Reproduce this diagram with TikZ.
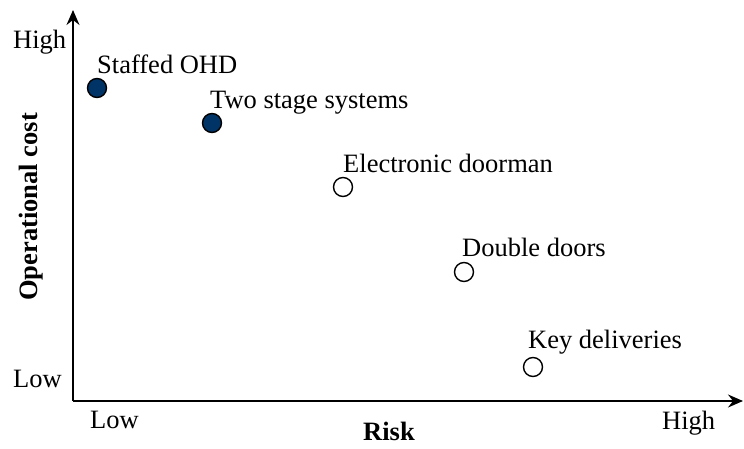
\documentclass[tikz,border=0pt]{standalone}
\usepackage{fontspec}
\setmainfont{Liberation Serif}
\usetikzlibrary{arrows.meta}
\definecolor{navy}{RGB}{0,51,102}
\begin{document}
\begin{tikzpicture}[x=1pt,y=1pt,
  axisline/.style={line width=1.6pt,-{Stealth[length=15pt,width=13pt,inset=5pt]}},
  dotfill/.style={circle,draw=black,line width=1.4pt,fill=navy,minimum size=19pt,inner sep=0pt},
  dotopen/.style={circle,draw=black,line width=1.4pt,fill=white,minimum size=19pt,inner sep=0pt},
  lbl/.style={font=\fontsize{26.5}{30}\selectfont,inner sep=0pt,anchor=base west},
  bold/.style={font=\fontsize{26.5}{30}\selectfont\bfseries,inner sep=0pt}]
\useasboundingbox (0,0) rectangle (744,448);
\coordinate (O) at (73,47);
\coordinate (ytip) at (73,438);
\coordinate (xtip) at (743,47);
\draw[axisline] (O) -- (ytip);
\draw[axisline] (O) -- (xtip);
\node[dotfill] (so) at (97,360) {};
\node[dotfill] (ts) at (212,325) {};
\node[dotopen] (ed) at (343,261) {};
\node[dotopen] (dd) at (464,176) {};
\node[dotopen] (kd) at (533,81) {};
\node[lbl] (lso) at (97,374) {Staffed OHD};
\node[lbl] (lts) at (210,339) {Two stage systems};
\node[lbl] (led) at (343,276) {Electronic doorman};
\node[lbl] (ldd) at (462,192) {Double doors};
\node[lbl] (lkd) at (528,100) {Key deliveries};
\node[lbl] (yhigh) at (13,399) {High};
\node[lbl] (ylow) at (13,61) {Low};
\node[lbl] (xlow) at (90,20) {Low};
\node[lbl] (xhigh) at (662,19) {High};
\node[bold,anchor=base] (risk) at (389,7.5) {Risk};
\node[bold,anchor=base,rotate=90] (opc) at (37,241) {Operational cost};
\end{tikzpicture}
\end{document}
